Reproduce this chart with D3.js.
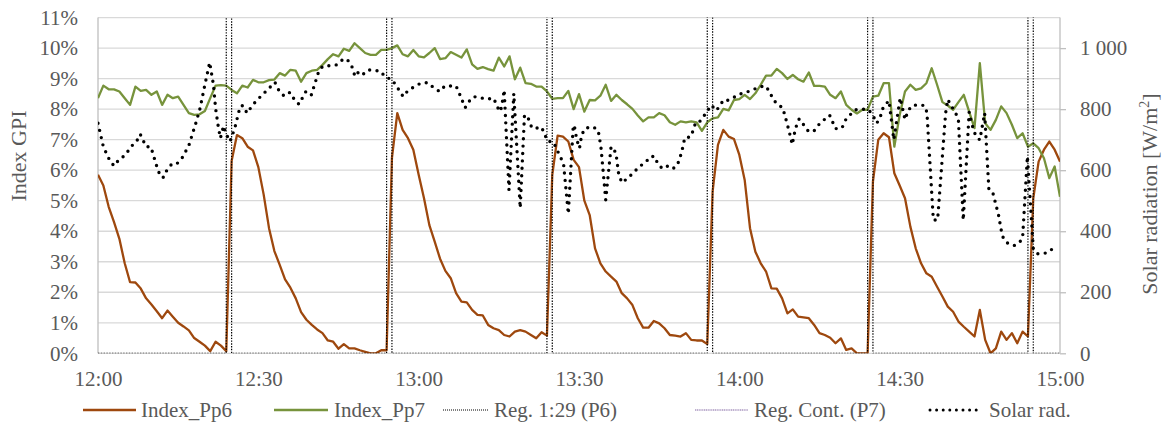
<!DOCTYPE html>
<html><head><meta charset="utf-8">
<script src="https://cdn.jsdelivr.net/npm/d3@7"></script>
<style>
body{margin:0;background:#fff}
svg text{font-family:"Liberation Serif","Times New Roman",serif;fill:#595959}
</style>
</head><body>
<svg id="chart" width="1164" height="431"></svg>
<script>
// ---------- DATA ----------
const startLabel = "12:00";          // first sample time
const sampleStepMin = 1;              // one sample per minute
const xTickLabels = ["12:00","12:30","13:00","13:30","14:00","14:30","15:00"];
const leftTicks = [0,1,2,3,4,5,6,7,8,9,10,11];       // Index GPI [%]
const rightTicks = [0,200,400,600,800,1000];          // W/m2
const seriesNames = ["Index_Pp6","Index_Pp7","Reg. 1:29 (P6)","Reg. Cont. (P7)","Solar rad."];

const indexPp6 = [5.85,5.5,4.8,4.3,3.75,2.95,2.33,2.32,2.12,1.8,1.6,1.38,1.15,1.4,1.2,1.0,0.88,0.75,0.5,0.38,0.25,0.07,0.38,0.25,0.07,
6.3,7.15,7.05,6.77,6.65,6.1,5.2,4.1,3.35,2.9,2.42,2.15,1.8,1.35,1.1,0.93,0.78,0.66,0.42,0.38,0.15,0.3,0.16,0.16,0.1,0.05,0.0,0.0,0.1,0.1,
6.4,7.87,7.32,7.05,6.67,5.85,5.08,4.2,3.66,3.1,2.7,2.46,1.97,1.69,1.67,1.42,1.26,1.24,0.93,0.82,0.76,0.6,0.55,0.71,0.76,0.71,0.6,0.49,0.69,0.58,
5.85,7.13,7.1,6.94,6.34,6.1,5.0,4.53,3.44,2.95,2.68,2.51,2.35,1.97,1.8,1.58,1.15,0.84,0.84,1.06,0.98,0.82,0.6,0.58,0.55,0.66,0.44,0.42,0.42,0.3,
5.3,6.83,7.32,7.1,7.02,6.5,5.68,4.1,3.33,2.95,2.68,2.13,2.12,1.8,1.31,1.44,1.2,1.18,1.15,0.93,0.66,0.6,0.51,0.33,0.49,0.11,0.16,0.0,0.0,0.0,
5.63,7.0,7.21,7.08,5.9,5.5,5.08,4.15,3.44,2.95,2.62,2.51,2.18,1.86,1.53,1.36,1.04,0.87,0.71,0.55,1.42,0.44,0.0,0.16,0.71,0.44,0.66,0.33,0.71,0.55,
5.08,6.28,6.67,6.94,6.67,6.28];

const indexPp7 = [8.36,8.77,8.65,8.65,8.58,8.36,8.14,8.74,8.6,8.63,8.47,8.58,8.14,8.47,8.36,8.41,8.14,7.87,7.81,7.83,7.94,8.36,8.77,8.79,8.77,
8.63,8.52,8.77,8.71,8.96,8.88,8.88,8.95,8.97,9.18,9.1,9.29,9.26,8.9,9.18,9.26,9.29,9.45,9.64,9.8,9.73,9.98,9.91,10.16,10.0,9.84,9.78,9.78,9.94,9.94,
10.0,10.09,9.8,9.73,9.94,9.73,9.7,9.84,10.0,9.64,9.67,9.87,9.78,9.69,9.96,9.47,9.32,9.38,9.31,9.26,9.69,9.4,9.73,8.98,9.36,8.85,8.83,8.74,8.74,8.58,
8.34,8.36,8.36,8.6,8.0,8.49,7.92,8.3,8.29,8.44,8.8,8.27,8.47,8.3,8.16,8.01,7.79,7.6,7.73,7.73,7.87,7.8,7.57,7.49,7.6,7.57,7.6,7.57,7.29,7.57,
7.7,7.73,8.01,7.96,8.3,8.33,8.47,8.33,8.52,8.8,9.1,9.1,9.32,9.18,8.99,9.12,8.98,8.9,9.2,8.76,8.76,8.74,8.47,8.36,8.58,8.14,7.98,7.86,7.98,7.98,
8.41,8.44,8.85,8.85,6.77,7.81,8.58,8.8,8.63,8.68,8.85,9.34,8.8,8.23,8.12,7.98,8.23,8.47,7.92,7.38,9.51,7.54,7.32,7.65,8.09,7.87,7.49,7.05,7.21,6.77,
6.88,6.72,6.39,5.74,6.12,5.13];

// regulation events (minutes after 12:00): on at start, off at end
const regP6Start = [24,54,84,114,144,174];
const regP6End   = [25,55,85,115,145,175];
const regP7Start = [];
const regP7End   = [];
const regOnValue = 100;   // percent, far above the axis

// solar radiation (minutes after 12:00, W/m2)
const solarTime = [0,1,2.2,3,3.9,5,6.4,7.2,7.9,9,9.9,11.2,11.8,12.3,12.9,13.8,14.7,15.7,17,18.3,19.1,20,20.9,21.6,22,22.5,22.9,23.5,23.9,24.7,25.6,26.6,27.1,27.9,28.8,29.6,31.5,33.1,33.8,34.8,35.9,36.7,37.6,38.9,39.9,41.2,42,43.1,44.6,45.9,46.6,47.5,48.1,48.9,49.7,50.6,51.5,52.8,53.8,55,55.8,57.1,58,59.3,60.4,61.7,62.7,63.9,64.9,66.1,67,67.6,68.7,69.4,70.3,71.4,72.7,74,74.6,75.1,75.5,76,76.9,77.8,79,79.8,80.5,81.2,82.1,83,83.6,84.2,85.1,85.8,86.3,87.1,88,88.9,89.1,89.6,90.1,90.5,91.2,92.7,93.6,94.1,95,96,96.9,97.4,98,99,100.2,101.3,102.4,103.4,104.2,104.7,105.5,106.3,107.5,108.4,109.2,109.8,110.8,111.5,111.8,112.7,113.4,113.9,114.8,115.6,116.3,117,117.8,118.9,120,121.4,122.6,123.9,125,125.8,126.5,127.4,128.1,128.5,129.3,129.9,130.5,131.2,132.2,132.9,133.9,134.8,135.7,136.9,138,139.2,139.9,140.7,141.7,142.9,144.2,145.1,145.7,146.3,146.9,147.6,148,148.9,150.1,151,151.6,152.3,153.5,154.6,155.1,156.3,157.1,158.6,159,159.7,160.4,161,161.9,163,163.5,164.2,165,165.9,166.7,167.5,168.5,169,169.4,170.2,171.4,172.3,173,173.9,175,175.8,177.2,178.2,179.7];
const solarValue = [754,677,632,614,634,648,681,694,718,677,676,601,577,577,601,620,620,639,681,754,803,880,953,880,803,743,705,745,721,694,738,809,812,787,810,827,860,888,863,843,855,833,816,858,846,918,940,942,945,964,964,940,907,925,916,929,927,925,905,897,877,841,861,875,885,887,872,858,876,876,876,852,805,825,841,838,833,836,814,792,805,863,535,851,476,781,770,738,738,741,716,694,694,672,650,623,457,738,748,699,672,716,738,742,729,677,503,677,658,590,559,572,592,612,625,645,645,622,607,615,604,616,658,707,708,735,757,761,778,792,813,795,808,830,829,838,849,856,864,874,875,851,828,812,805,781,729,684,737,768,745,728,727,748,763,780,736,738,765,781,798,800,798,776,754,770,805,820,828,700,837,766,795,812,814,812,790,437,437,787,832,809,792,762,436,790,751,714,699,787,535,522,453,404,377,361,353,361,377,645,344,326,328,340,339];

// ---------- CHART ----------
const W = 1164, H = 431;
const M = {left: 98, right: 104, top: 17.6, bottom: 77.7};
const pw = W - M.left - M.right, ph = H - M.top - M.bottom;
const svg = d3.select("#chart");
const toMin = s => { const [h,m] = s.split(":").map(Number); return h*60+m; };
const t0 = toMin(startLabel);
const x = d3.scaleLinear().domain([0, toMin(xTickLabels[xTickLabels.length-1]) - t0]).range([M.left, M.left+pw]);
const yL = d3.scaleLinear().domain([0, d3.max(leftTicks)]).range([M.top+ph, M.top]);
const yR = d3.scaleLinear().domain([0, d3.max(leftTicks)*100]).range([M.top+ph, M.top]);
const fontSize = 21;

svg.append("defs").append("clipPath").attr("id","clip")
  .append("rect").attr("x",M.left).attr("y",M.top).attr("width",pw).attr("height",ph);

// gridlines
svg.append("g").selectAll("line").data(leftTicks).join("line")
  .attr("x1",M.left).attr("x2",M.left+pw)
  .attr("y1",d=>yL(d)).attr("y2",d=>yL(d))
  .attr("stroke","#d9d9d9").attr("stroke-width",1.3);

// axis lines
const axisCol = "#bfbfbf";
svg.append("line").attr("x1",M.left).attr("x2",M.left).attr("y1",M.top).attr("y2",M.top+ph).attr("stroke",axisCol).attr("stroke-width",1.3);
svg.append("line").attr("x1",M.left+pw).attr("x2",M.left+pw).attr("y1",M.top).attr("y2",M.top+ph).attr("stroke",axisCol).attr("stroke-width",1.3);

// left axis
const gL = svg.append("g").attr("transform",`translate(${M.left},0)`)
  .call(d3.axisLeft(yL).tickValues(leftTicks).tickSize(0).tickPadding(20).tickFormat(d=>d+"%"));
gL.select(".domain").remove();
gL.selectAll("text").attr("font-size",fontSize).attr("fill","#595959");

// right axis
const loc = d3.formatLocale({decimal:",",thousands:" ",grouping:[3],currency:["",""]});
const fmtR = loc.format(",");
const gR = svg.append("g").attr("transform",`translate(${M.left+pw},0)`)
  .call(d3.axisRight(yR).tickValues(rightTicks).tickSize(6).tickPadding(14).tickFormat(fmtR));
gR.select(".domain").remove();
gR.selectAll("line").attr("stroke",axisCol).attr("stroke-width",1.3);
gR.selectAll("text").attr("font-size",fontSize).attr("fill","#595959");

// bottom axis
const gB = svg.append("g").attr("transform",`translate(0,${M.top+ph})`)
  .call(d3.axisBottom(x).tickValues(xTickLabels.map(s=>toMin(s)-t0)).tickSize(0).tickPadding(18)
    .tickFormat((d,i)=>xTickLabels[i]));
gB.select(".domain").remove();
gB.selectAll("text").attr("font-size",fontSize).attr("fill","#595959");

// axis titles
svg.append("text").attr("transform",`translate(26,156) rotate(-90)`).attr("text-anchor","middle")
  .attr("font-size",22).text("Index GPI");
const rt = svg.append("text").attr("transform",`translate(1157,194) rotate(-90)`).attr("text-anchor","middle")
  .attr("font-size",22);
rt.append("tspan").text("Solar radiation [W/m");
rt.append("tspan").attr("font-size",14).attr("dy",-8).text("2");
rt.append("tspan").attr("dy",8).text("]");

// series
const plot = svg.append("g").attr("clip-path","url(#clip)");
const colPp6 = "#9E480E", colPp7 = "#77933C", colRegP7 = "#8064A2";
const tOf = i => i*sampleStepMin;

// full step series (baseline at 0 with pulses)
function regSteps(starts, ends){
  const pts = [[0,0]];
  starts.forEach((s,i)=>{ pts.push([s,0],[s,regOnValue],[ends[i],regOnValue],[ends[i],0]); });
  pts.push([x.domain()[1],0]);
  return pts;
}

const lineL = d3.line().x(d=>x(d[0])).y(d=>yL(d[1]));

plot.append("path").datum(indexPp6.map((v,i)=>[tOf(i),v])).attr("d",lineL)
  .attr("fill","none").attr("stroke",colPp6).attr("stroke-width",2.3).attr("stroke-linejoin","round");
plot.append("path").datum(indexPp7.map((v,i)=>[tOf(i),v])).attr("d",lineL)
  .attr("fill","none").attr("stroke",colPp7).attr("stroke-width",2.3).attr("stroke-linejoin","round");
// Reg. Cont. (P7): only pulses, if any (its zero baseline lies hidden under the P6 line)
if (regP7Start.length) {
  plot.append("path").datum(regSteps(regP7Start,regP7End)).attr("d",lineL)
    .attr("fill","none").attr("stroke",colRegP7).attr("stroke-width",0.8);
}
plot.append("path").datum(regSteps(regP6Start,regP6End)).attr("d",lineL)
  .attr("fill","none").attr("stroke","#000").attr("stroke-width",1.2).attr("stroke-dasharray","1.4,1.4");

const lineR = d3.line().x(d=>x(d[0])).y(d=>yR(d[1]));
plot.append("path").datum(solarTime.map((t,i)=>[t,solarValue[i]])).attr("d",lineR)
  .attr("fill","none").attr("stroke","#000").attr("stroke-width",3.4)
  .attr("stroke-linecap","round").attr("stroke-dasharray","0,7.4");

// legend
const legendY = 410;
const legend = [
  {name:seriesNames[0], x0:83,  x1:136, tx:141, stroke:colPp6, w:2.3, dash:null, cap:"butt"},
  {name:seriesNames[1], x0:274, x1:328, tx:334, stroke:colPp7, w:2.3, dash:null, cap:"butt"},
  {name:seriesNames[2], x0:443, x1:489, tx:494, stroke:"#000",  w:1,   dash:"1,1", cap:"butt"},
  {name:seriesNames[3], x0:695, x1:748, tx:754, stroke:colRegP7, w:1.2, dash:"1.2,0.6", cap:"butt"},
  {name:seriesNames[4], x0:930, x1:978, tx:989, stroke:"#000",  w:3,   dash:"0,6.6", cap:"round"}
];
const lg = svg.append("g");
legend.forEach(d=>{
  const l = lg.append("line").attr("x1",d.x0).attr("x2",d.x1).attr("y1",legendY).attr("y2",legendY)
    .attr("stroke",d.stroke).attr("stroke-width",d.w).attr("stroke-linecap",d.cap);
  if(d.dash) l.attr("stroke-dasharray",d.dash);
  lg.append("text").attr("x",d.tx).attr("y",legendY).attr("dy","0.35em").attr("font-size",fontSize).text(d.name);
});
</script>
</body></html>
